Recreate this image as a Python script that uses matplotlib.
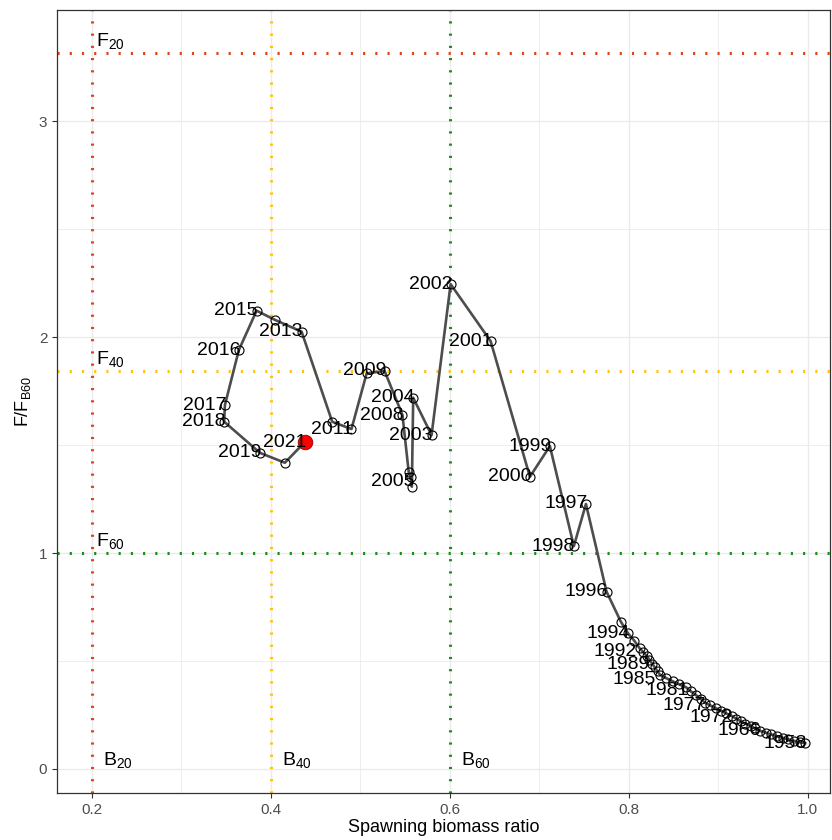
import matplotlib
matplotlib.use("Agg")
import matplotlib.pyplot as plt

plt.rcParams['font.family'] = ['Liberation Sans', 'DejaVu Sans']
plt.rcParams['mathtext.fontset'] = 'custom'
plt.rcParams['mathtext.rm'] = 'Liberation Sans'
plt.rcParams['mathtext.it'] = 'Liberation Sans'

# ---------- DATA ----------
years = list(range(1958, 2022))
sb_ratio = [0.997, 0.991, 0.985, 0.978, 0.972, 0.965, 0.959, 0.953, 0.946, 0.941,
            0.936, 0.930, 0.925, 0.920, 0.915, 0.909, 0.903, 0.897, 0.891, 0.885,
            0.880, 0.875, 0.869, 0.864, 0.856, 0.849, 0.842, 0.835, 0.832, 0.829,
            0.826, 0.823, 0.820, 0.816, 0.812, 0.806, 0.799, 0.791, 0.775, 0.752,
            0.7385, 0.7117, 0.6894, 0.6455, 0.6008, 0.5795, 0.559, 0.5575, 0.556, 0.554,
            0.547, 0.527, 0.507, 0.490, 0.4685, 0.4343, 0.4048, 0.384, 0.3642, 0.3486,
            0.3478, 0.3877, 0.4156, 0.438]
f_ratio = [0.119, 0.124, 0.130, 0.137, 0.144, 0.152, 0.160, 0.168, 0.177, 0.188,
           0.199, 0.210, 0.221, 0.233, 0.245, 0.257, 0.269, 0.282, 0.294, 0.307,
           0.325, 0.342, 0.360, 0.378, 0.392, 0.406, 0.420, 0.435, 0.452, 0.470,
           0.488, 0.505, 0.523, 0.541, 0.559, 0.594, 0.628, 0.682, 0.821, 1.227,
           1.032, 1.495, 1.353, 1.981, 2.245, 1.546, 1.719, 1.307, 1.350, 1.374,
           1.639, 1.843, 1.832, 1.574, 1.608, 2.025, 2.079, 2.122, 1.940, 1.685,
           1.608, 1.464, 1.418, 1.514]
labelled_years = [1958, 1966, 1972, 1977, 1981, 1985, 1989, 1992, 1994, 1996, 1997,
                  1998, 1999, 2000, 2001, 2002, 2003, 2004, 2005, 2008, 2009, 2011,
                  2013, 2015, 2016, 2017, 2018, 2019, 2021]
# small label shifts (points), like the repelled labels in the original
label_nudge = {2005: (1, 4), 1992: (-3, -2), 1989: (-1, -3), 1985: (-4, -3),
               1981: (1, -2), 1977: (0, -2), 1972: (0, -1)}

ref_b = [0.2, 0.4, 0.6]
ref_f = [3.315, 1.843, 1.0]
ref_names = ["20", "40", "60"]
ref_colors = ["#E0421B", "#FFC20E", "#1E8B1E"]

# ---------- PLOT ----------
fig = plt.figure(figsize=(8.32, 8.40), dpi=100)
ax = fig.add_axes([0.0685, 0.056, 0.929, 0.932])

ax.set_xlim(0.161, 1.0246)
ax.set_ylim(-0.111, 3.514)

ax.set_xticks([0.2, 0.4, 0.6, 0.8, 1.0])
ax.set_xticklabels(["0.2", "0.4", "0.6", "0.8", "1.0"])
ax.set_yticks([0, 1, 2, 3])
ax.set_xticks([0.3, 0.5, 0.7, 0.9], minor=True)
ax.set_yticks([0.5, 1.5, 2.5], minor=True)
ax.grid(True, which='major', color='#EBEBEB', lw=1.0, zorder=0)
ax.grid(True, which='minor', color='#EBEBEB', lw=0.6, zorder=0)
ax.set_axisbelow(True)
ax.tick_params(which='major', length=3.5, width=0.8, color='#333333',
               labelcolor='#4D4D4D', labelsize=11)
ax.tick_params(which='minor', length=0)
for s in ax.spines.values():
    s.set_color('#333333')
    s.set_linewidth(0.9)

for b, f, name, c in zip(ref_b, ref_f, ref_names, ref_colors):
    ax.axvline(b, color=c, lw=2.2, ls=(0, (0.7, 3.3)), zorder=2)
    ax.axhline(f, color=c, lw=2.2, ls=(0, (0.7, 3.3)), zorder=2)
    ax.text(0.205, f + 0.01, "F$_{" + name + "}$", fontsize=14,
            ha='left', va='bottom', zorder=5)
    ax.text(b + 0.012, 0.04, "B$_{" + name + "}$", fontsize=14,
            ha='left', va='center', zorder=5)

ax.plot(sb_ratio, f_ratio, color='#4D4D4D', lw=1.9, zorder=3)
ax.plot(sb_ratio[:-1], f_ratio[:-1], ls='none', marker='o', ms=6.5,
        mfc='none', mec='black', mew=0.8, zorder=4)
ax.plot(sb_ratio[-1:], f_ratio[-1:], ls='none', marker='o', ms=10.5,
        mfc='red', mec='#8B0000', mew=0.6, zorder=4)

for yr, x, y in zip(years, sb_ratio, f_ratio):
    if yr in labelled_years:
        dx, dy = label_nudge.get(yr, (0, 0))
        ax.annotate(str(yr), (x, y), xytext=(1 + dx, dy), textcoords='offset points',
                    ha='right', va='center', fontsize=14, zorder=5)

ax.set_xlabel("Spawning biomass ratio", fontsize=13, labelpad=2)
ax.set_ylabel("F/F$_{B60}$", fontsize=13, labelpad=4)

fig.savefig("out.png", dpi=100)
